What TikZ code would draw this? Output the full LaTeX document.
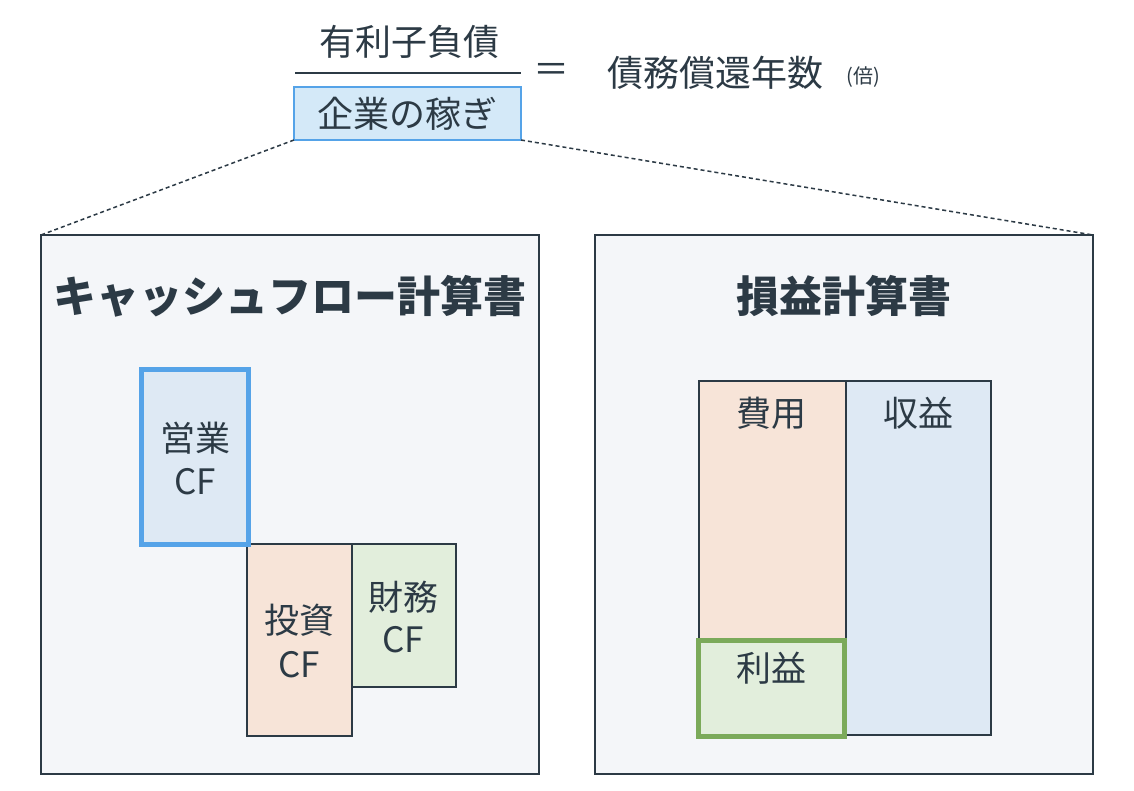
\documentclass[tikz,border=0pt]{standalone}
\usepackage{fontspec}
\setmainfont{Noto Sans CJK JP}
\definecolor{ink}{HTML}{2C3A45}
\definecolor{panelbg}{HTML}{F4F6F9}
\definecolor{blueb}{HTML}{55A3E8}
\definecolor{bluef}{HTML}{DEE9F4}
\definecolor{kasegif}{HTML}{D4E9F8}
\definecolor{orangef}{HTML}{F7E4D8}
\definecolor{greenf}{HTML}{E2EEDC}
\definecolor{greenb}{HTML}{7BAA5A}
\begin{document}
\begin{tikzpicture}[x=1pt,y=-1pt,
  every node/.style={text=ink},
  txt/.style={font=\fontsize{35}{41}\selectfont, inner sep=0},
  toptxt/.style={font=\fontsize{36}{42}\selectfont, inner sep=0},
  ttl/.style={font=\fontsize{43}{49}\selectfont\bfseries, inner sep=0},
  boxn/.style={draw=ink, line width=2pt, inner sep=0, outer sep=0, anchor=north west},
  panel/.style={boxn, fill=panelbg, minimum width=498pt, minimum height=539pt},
  dashline/.style={draw=ink, line width=1.5pt, dash pattern=on 4pt off 3pt}
]
\useasboundingbox (0,0) rectangle (1134,790);
\fill[white] (0,0) rectangle (1134,790);

% top formula
\node[toptxt] (num) at (409,42) {有利子負債};
\coordinate (fl) at (295,73);
\coordinate (fr) at (521,73);
\draw[ink, line width=1.5pt] (fl) -- (fr);
\node[boxn, draw=blueb, line width=2.5pt, fill=kasegif, minimum width=227pt, minimum height=53pt] (den) at (294,87) {};
\node[toptxt] (dent) at (den.center) {企業の稼ぎ};
\node[toptxt] (eq) at (551,73) {＝};
\node[toptxt] (res) at (715,73) {債務償還年数};
\node[font=\fontsize{20}{24}\selectfont, inner sep=0] (bai) at (863,77) {(倍)};

% panels
\node[panel] (cf) at (41,235) {};
\node[panel] (pl) at (595,235) {};
\draw[dashline] (den.south west) -- (cf.north west);
\draw[dashline] (den.south east) -- (pl.north east);

\node[ttl] (cft) at (290,296) {キャッシュフロー計算書};
\node[ttl] (plt) at (844,296) {損益計算書};

% CF boxes
\node[boxn, fill=orangef, minimum width=105pt, minimum height=192pt] (inv) at (247,544) {};
\node[boxn, fill=greenf, minimum width=104pt, minimum height=143pt] (fin) at (352,544) {};
\node[boxn, draw=blueb, line width=5pt, fill=bluef, minimum width=107pt, minimum height=175pt] (op) at (141.5,369.5) {};
\node[txt] (opt1) at (195,438) {営業};
\node[txt] (opt2) at (195,482) {CF};
\node[txt] (invt1) at (299,620) {投資};
\node[txt] (invt2) at (299,665) {CF};
\node[txt] (fint1) at (403,597) {財務};
\node[txt] (fint2) at (403,640) {CF};

% PL boxes
\node[boxn, fill=orangef, minimum width=147pt, minimum height=300pt] (cost) at (699,381) {};
\node[boxn, fill=bluef, minimum width=145pt, minimum height=354pt] (rev) at (846,381) {};
\node[boxn, draw=greenb, line width=5pt, fill=greenf, minimum width=146pt, minimum height=95.5pt] (prof) at (698.5,640.5) {};
\node[txt] (costt) at (771,413) {費用};
\node[txt] (revt) at (918,413) {収益};
\node[txt] (proft) at (771,668) {利益};
\end{tikzpicture}
\end{document}
